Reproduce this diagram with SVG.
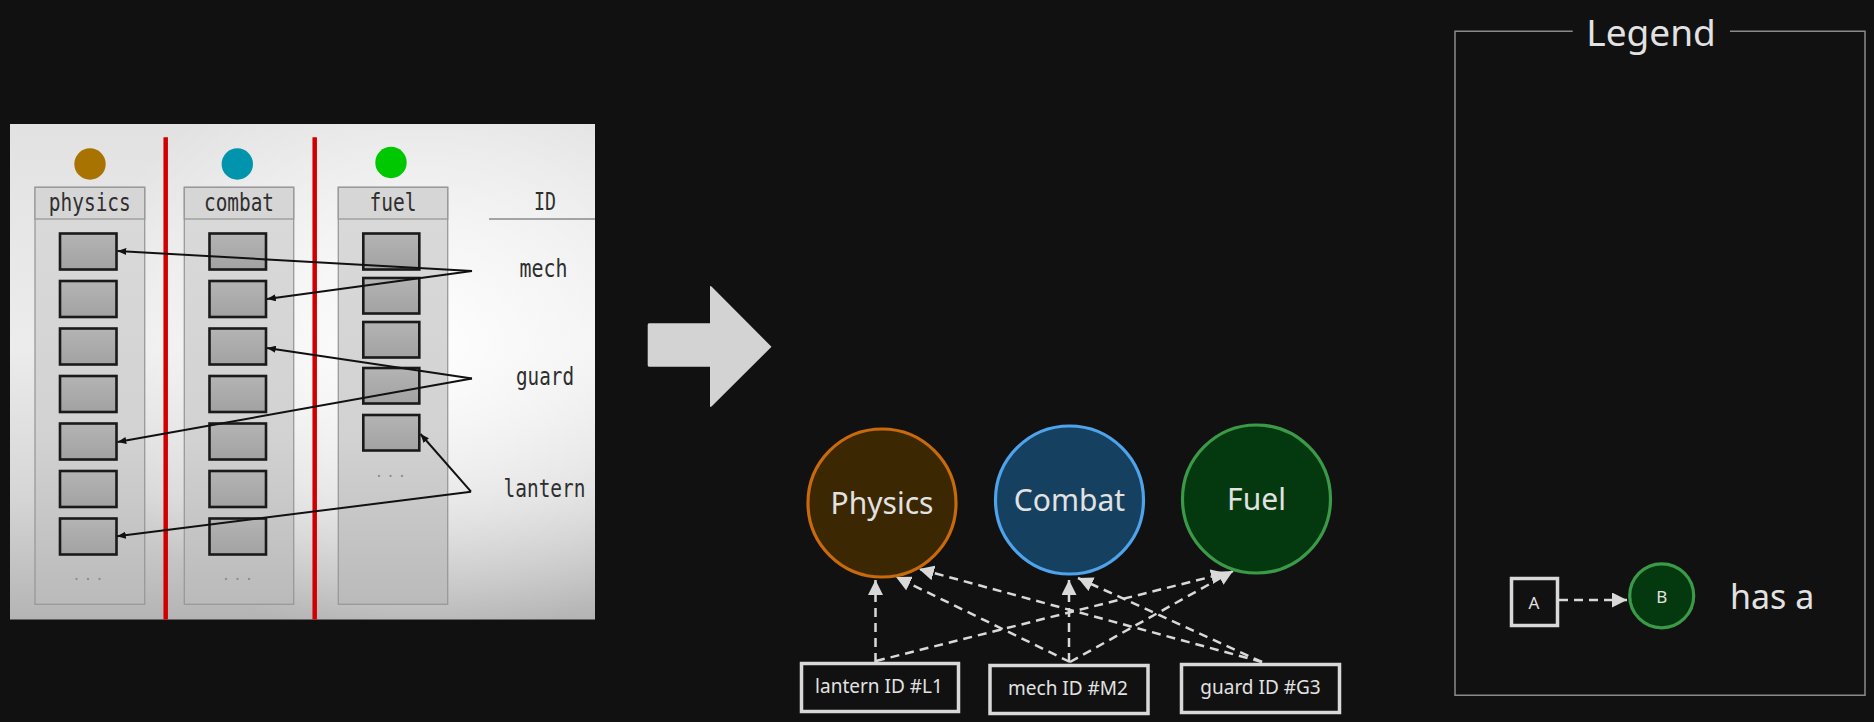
<svg xmlns="http://www.w3.org/2000/svg" width="1874" height="722" viewBox="0 0 1874 722">
<defs>
<style>
.mono{font-family:"DejaVu Sans Mono","Liberation Mono",monospace;fill:#2e2e2e;font-size:24px}
.dots{font-family:"DejaVu Sans Mono",monospace;fill:#8a8a8a;font-size:14px;letter-spacing:3px}
.col{fill:url(#colg);stroke:#999;stroke-width:1.3}
.hdr{fill:#d6d6d6;stroke:#999;stroke-width:1.3}
.slot{fill:url(#slotg);stroke:#1a1a1a;stroke-width:2.6}
.red{stroke:#d00000;stroke-width:4.5}
.ptr{stroke:#111;stroke-width:2;fill:none;marker-end:url(#sm)}
.sans{font-family:"Noto Sans","Open Sans","Liberation Sans",sans-serif;fill:#e2e2e2}
.dash{stroke:#d9d9d9;stroke-width:2.5;fill:none;stroke-dasharray:9 6;marker-end:url(#ah)}
.box{fill:#111;stroke:#d9d9d9;stroke-width:3.5}
</style>
<linearGradient id="panelv" x1="0" y1="0" x2="0" y2="1">
<stop offset="0" stop-color="#e2e2e2"/>
<stop offset="0.45" stop-color="#ececec"/>
<stop offset="0.75" stop-color="#d6d6d6"/>
<stop offset="1" stop-color="#b4b4b4"/>
</linearGradient>
<radialGradient id="panelg" cx="0.7" cy="0.45" r="0.6">
<stop offset="0" stop-color="#ffffff" stop-opacity="0.95"/>
<stop offset="0.6" stop-color="#ffffff" stop-opacity="0.4"/>
<stop offset="1" stop-color="#ffffff" stop-opacity="0"/>
</radialGradient>
<linearGradient id="colg" x1="0" y1="0" x2="0" y2="1">
<stop offset="0" stop-color="#dadada"/>
<stop offset="0.6" stop-color="#d2d2d2"/>
<stop offset="1" stop-color="#bababa"/>
</linearGradient>
<linearGradient id="slotg" x1="0" y1="0" x2="0" y2="1">
<stop offset="0" stop-color="#b4b4b4"/>
<stop offset="1" stop-color="#a2a2a2"/>
</linearGradient>
<marker id="sm" viewBox="0 0 10 8" refX="10" refY="4" markerWidth="9" markerHeight="7" markerUnits="userSpaceOnUse" orient="auto">
<path d="M0,0 L10,4 L0,8 z" fill="#111"/>
</marker>
<marker id="ah" viewBox="0 0 15 15" refX="15" refY="7.5" markerWidth="15" markerHeight="15" markerUnits="userSpaceOnUse" orient="auto">
<path d="M0,0 L15,7.5 L0,15 z" fill="#d9d9d9"/>
</marker>
</defs>
<rect width="1874" height="722" fill="#111111"/>

<g id="ecs-picture">
<rect x="10" y="124" width="585" height="495.5" fill="url(#panelv)"/>
<rect x="10" y="124" width="585" height="495.5" fill="url(#panelg)"/>
<circle cx="90" cy="164" r="15.7" fill="#a87300"/>
<circle cx="237.3" cy="164" r="15.7" fill="#0094ad"/>
<circle cx="391" cy="162.5" r="15.7" fill="#00c800"/>
<line class="red" x1="165.7" y1="137.3" x2="165.7" y2="619.5"/>
<line class="red" x1="314.7" y1="137.3" x2="314.7" y2="619.5"/>

<g id="col-physics">
<rect class="col" x="35" y="187.3" width="109.7" height="417"/>
<rect class="hdr" x="35" y="187.3" width="109.7" height="31.7"/>
<text class="mono" x="89.8" y="210.5" text-anchor="middle" textLength="82" lengthAdjust="spacingAndGlyphs">physics</text>
<rect class="slot" x="60" y="233.5" width="56.5" height="36"/>
<rect class="slot" x="60" y="281" width="56.5" height="36"/>
<rect class="slot" x="60" y="328.5" width="56.5" height="36"/>
<rect class="slot" x="60" y="376" width="56.5" height="36"/>
<rect class="slot" x="60" y="423.5" width="56.5" height="36"/>
<rect class="slot" x="60" y="471" width="56.5" height="36"/>
<rect class="slot" x="60" y="518.5" width="56.5" height="36"/>
<text class="dots" x="89.5" y="580" text-anchor="middle">...</text>
</g>
<g id="col-combat">
<rect class="col" x="184.3" y="187.3" width="109.4" height="417"/>
<rect class="hdr" x="184.3" y="187.3" width="109.4" height="31.7"/>
<text class="mono" x="239" y="210.5" text-anchor="middle" textLength="70" lengthAdjust="spacingAndGlyphs">combat</text>
<rect class="slot" x="209.5" y="233.5" width="56.5" height="36"/>
<rect class="slot" x="209.5" y="281" width="56.5" height="36"/>
<rect class="slot" x="209.5" y="328.5" width="56.5" height="36"/>
<rect class="slot" x="209.5" y="376" width="56.5" height="36"/>
<rect class="slot" x="209.5" y="423.5" width="56.5" height="36"/>
<rect class="slot" x="209.5" y="471" width="56.5" height="36"/>
<rect class="slot" x="209.5" y="518.5" width="56.5" height="36"/>
<text class="dots" x="239" y="580" text-anchor="middle">...</text>
</g>
<g id="col-fuel">
<rect class="col" x="338.3" y="187.3" width="109.4" height="417"/>
<rect class="hdr" x="338.3" y="187.3" width="109.4" height="31.7"/>
<text class="mono" x="393" y="210.5" text-anchor="middle" textLength="47" lengthAdjust="spacingAndGlyphs">fuel</text>
<rect class="slot" x="363.3" y="233.5" width="56" height="36"/>
<rect class="slot" x="363.3" y="278" width="56" height="35.5"/>
<rect class="slot" x="363.3" y="322" width="56" height="35.5"/>
<rect class="slot" x="363.3" y="368" width="56" height="35.5"/>
<rect class="slot" x="363.3" y="415" width="56" height="35.5"/>
<text class="dots" x="392" y="476.5" text-anchor="middle">...</text>
</g>
<g id="col-id">
<text class="mono" x="545" y="210" text-anchor="middle" textLength="22" lengthAdjust="spacingAndGlyphs">ID</text>
<line x1="489" y1="219" x2="595" y2="219" stroke="#8a8a8a" stroke-width="1.5"/>
<text class="mono" x="543.5" y="276.5" text-anchor="middle" textLength="48" lengthAdjust="spacingAndGlyphs">mech</text>
<text class="mono" x="545" y="384.5" text-anchor="middle" textLength="58" lengthAdjust="spacingAndGlyphs">guard</text>
<text class="mono" x="544.5" y="496.5" text-anchor="middle" textLength="82" lengthAdjust="spacingAndGlyphs">lantern</text>
</g>
<g id="pointers">
<polyline class="ptr" points="472,271 117.5,251"/>
<polyline class="ptr" points="472,271 267,299"/>
<polyline class="ptr" points="472,378.5 267,348"/>
<polyline class="ptr" points="472,378.5 117.5,442"/>
<polyline class="ptr" points="471,491.7 420.5,434"/>
<polyline class="ptr" points="471,491.7 117,536.3"/>
</g>
</g>

<g id="big-arrow">
<path d="M649,323.3 L710,323.3 L710,287 Q710,285 712,287 L771.5,346.7 L712,406 Q710,408 710,406 L710,366.7 L649,366.7 Q647.7,366.7 647.7,365 L647.7,325 Q647.7,323.3 649,323.3 z" fill="#d3d3d3"/>
</g>

<g id="connectors">
<line class="dash" x1="875.5" y1="662" x2="875.5" y2="580"/>
<line class="dash" x1="876" y1="661" x2="1226" y2="573"/>
<line class="dash" x1="1070" y1="662" x2="896" y2="577"/>
<line class="dash" x1="1069" y1="662" x2="1069" y2="580"/>
<line class="dash" x1="1070" y1="662" x2="1233" y2="571"/>
<line class="dash" x1="1262" y1="662" x2="919" y2="569"/>
<line class="dash" x1="1262" y1="662" x2="1078" y2="578"/>
</g>

<g id="node-physics">
<circle cx="882" cy="503" r="74" fill="#3b2702" stroke="#c8690c" stroke-width="3.2"/>
<text class="sans" x="882" y="514" font-size="30" text-anchor="middle">Physics</text>
</g>
<g id="node-combat">
<circle cx="1069.5" cy="500" r="74" fill="#16405f" stroke="#4ea3ea" stroke-width="3.2"/>
<text class="sans" x="1069.5" y="511" font-size="30" text-anchor="middle">Combat</text>
</g>
<g id="node-fuel">
<circle cx="1256.5" cy="499" r="74" fill="#04380e" stroke="#3a9a48" stroke-width="3.2"/>
<text class="sans" x="1256.5" y="510" font-size="30" text-anchor="middle">Fuel</text>
</g>

<g id="node-lantern">
<rect class="box" x="801.5" y="663.5" width="157" height="48"/>
<text class="sans" x="879" y="693" font-size="19" text-anchor="middle">lantern ID #L1</text>
</g>
<g id="node-mech">
<rect class="box" x="990" y="665.5" width="158" height="48"/>
<text class="sans" x="1068" y="695" font-size="19" text-anchor="middle">mech ID #M2</text>
</g>
<g id="node-guard">
<rect class="box" x="1181.5" y="664.5" width="158" height="48"/>
<text class="sans" x="1260.5" y="694" font-size="19" text-anchor="middle">guard ID #G3</text>
</g>

<g id="legend">
<path d="M1572.7,31.3 L1455,31.3 L1455,695.3 L1865,695.3 L1865,31.3 L1730,31.3" fill="none" stroke="#8a8a8a" stroke-width="1.5"/>
<text class="sans" x="1651" y="46" font-size="37" text-anchor="middle">Legend</text>
<rect class="box" x="1511.5" y="578.5" width="46" height="47" stroke-width="3"/>
<text class="sans" x="1534" y="609" font-size="17" text-anchor="middle">A</text>
<line class="dash" x1="1559" y1="600" x2="1627" y2="600" stroke-dasharray="8 6"/>
<circle cx="1661.7" cy="595.8" r="32" fill="#04380e" stroke="#3a9a48" stroke-width="3.2"/>
<text class="sans" x="1661.7" y="602.5" font-size="17" text-anchor="middle">B</text>
<text class="sans" x="1730" y="608.5" font-size="34">has a</text>
</g>
</svg>
